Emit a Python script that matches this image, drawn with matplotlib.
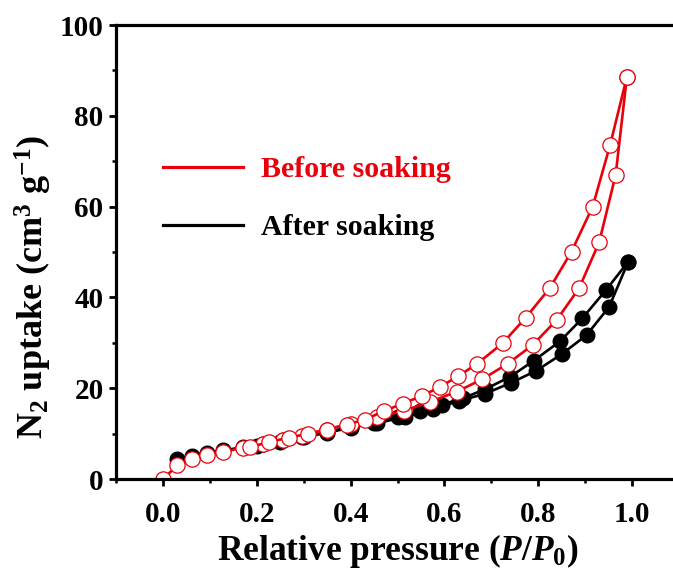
import matplotlib
matplotlib.use("Agg")
import matplotlib.pyplot as plt
from matplotlib.lines import Line2D
from matplotlib.ticker import MultipleLocator

# N2 isotherms (P/P0, uptake in cm3/g)
before_ads_p = [0.0, 0.031, 0.062, 0.095, 0.129, 0.171, 0.213, 0.257, 0.296, 0.349,
                0.400, 0.457, 0.513, 0.569, 0.626, 0.681, 0.735, 0.788, 0.839, 0.887,
                0.930, 0.965, 0.989]
before_ads_v = [0.0, 3.0, 4.4, 5.3, 6.0, 6.9, 7.6, 8.5, 9.5, 10.9,
                12.2, 13.6, 15.0, 17.0, 19.2, 22.0, 25.4, 29.5, 35.0, 42.0,
                52.2, 67.0, 88.6]
before_des_p = [0.989, 0.953, 0.916, 0.871, 0.825, 0.773, 0.724, 0.670, 0.630, 0.591,
                0.552, 0.511, 0.472, 0.431, 0.392, 0.349, 0.310, 0.269, 0.227, 0.186]
before_des_v = [88.6, 73.5, 60.0, 50.1, 42.1, 35.5, 29.9, 25.4, 22.7, 20.3,
                18.3, 16.6, 15.0, 13.1, 12.0, 10.9, 10.0, 9.1, 8.2, 7.0]

after_ads_p = [0.029, 0.062, 0.095, 0.129, 0.171, 0.213, 0.257, 0.296, 0.349, 0.400,
               0.457, 0.516, 0.575, 0.632, 0.687, 0.742, 0.795, 0.850, 0.903, 0.951,
               0.992]
after_ads_v = [4.3, 5.0, 5.7, 6.3, 7.0, 7.7, 8.5, 9.3, 10.4, 11.4,
               12.3, 13.7, 15.4, 17.2, 18.8, 21.2, 23.8, 27.5, 31.7, 37.9,
               47.9]
after_des_p = [0.992, 0.945, 0.894, 0.846, 0.791, 0.740, 0.687, 0.640, 0.594, 0.548,
               0.500, 0.450, 0.400, 0.350, 0.300, 0.250, 0.200]
after_des_v = [47.9, 41.7, 35.4, 30.3, 26.1, 22.5, 19.8, 17.8, 16.4, 15.0,
               13.6, 12.4, 11.3, 10.2, 9.2, 8.2, 7.3]

RED = "#e8000b"

plt.rcParams["font.family"] = ["Liberation Serif", "DejaVu Serif"]
plt.rcParams["font.weight"] = "bold"
plt.rcParams["mathtext.fontset"] = "custom"
plt.rcParams["mathtext.rm"] = "Liberation Serif:weight=bold"
plt.rcParams["mathtext.bf"] = "Liberation Serif:weight=bold"
plt.rcParams["mathtext.it"] = "Liberation Serif:weight=bold:style=italic"

fig = plt.figure(figsize=(6.73, 5.76), dpi=100)
ax = fig.add_axes([116 / 673, 97 / 576, 563 / 673, 454 / 576])

# after soaking (filled black) underneath
ax.plot(after_ads_p, after_ads_v, "-o", color="black", lw=1.9,
        ms=10.5, mfc="black", mec="black")
ax.plot(after_des_p, after_des_v, "-o", color="black", lw=1.9,
        ms=10.5, mfc="black", mec="black")

# before soaking (open red) on top
ax.plot(before_ads_p, before_ads_v, "-o", color=RED, lw=1.9,
        ms=11, mfc="white", mec=RED, mew=0.9)
ax.plot(before_des_p, before_des_v, "-o", color=RED, lw=1.9,
        ms=11, mfc="white", mec=RED, mew=0.9)

ax.set_xlim(-0.1, 1.1)
ax.set_ylim(0, 100)
ax.xaxis.set_major_locator(MultipleLocator(0.2))
ax.xaxis.set_minor_locator(MultipleLocator(0.1))
ax.yaxis.set_major_locator(MultipleLocator(20))
ax.yaxis.set_minor_locator(MultipleLocator(10))
ax.xaxis.set_major_formatter(lambda v, pos: f"{v:.1f}")

for s in ax.spines.values():
    s.set_linewidth(2.3)
ax.tick_params(which="major", direction="out", length=5, width=2.0,
               labelsize=21, pad=4, top=False, right=False)
ax.tick_params(which="minor", direction="out", length=3, width=1.8,
               top=False, right=False)
ax.tick_params(axis="x", which="major", pad=11)

ax.set_xlabel(r"Relative pressure ($P/P_0$)", fontsize=25.5, fontweight="bold", labelpad=3)
ax.set_ylabel(r"N$_2$ uptake (cm$^3$ g$^{-1}$)", fontsize=26, fontweight="bold")
ax.yaxis.set_label_coords(-0.11, 0.423)

handles = [Line2D([], [], color=RED, lw=2.3), Line2D([], [], color="black", lw=2.3)]
leg = ax.legend(handles, ["Before soaking", "After soaking"], loc="upper left",
                bbox_to_anchor=(0.084, 0.711), frameon=False, fontsize=21.5,
                handlelength=2.68, handletextpad=0.6, labelspacing=1.03,
                borderaxespad=0, borderpad=0)
for txt, c in zip(leg.get_texts(), [RED, "black"]):
    txt.set_color(c)
    txt.set_fontweight("bold")

fig.savefig("out.png", dpi=100)
